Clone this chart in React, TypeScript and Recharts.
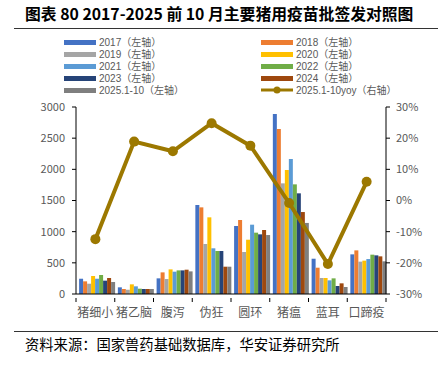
import React from 'react';
import { ComposedChart, Bar, Line, XAxis, YAxis } from 'recharts';

const categories = ['猪细小', '猪乙脑', '腹泻', '伪狂', '圆环', '猪瘟', '蓝耳', '口蹄疫'];
const y2017 = [245, 107, 251, 1428, 1091, 2887, 566, 636];
const y2018 = [203, 80, 347, 1390, 1187, 2647, 422, 700];
const y2019 = [165, 69, 240, 802, 674, 1775, 257, 519];
const y2020 = [289, 155, 395, 1230, 871, 1989, 257, 535];
const y2021 = [245, 123, 358, 733, 1112, 2165, 219, 561];
const y2022 = [305, 85, 379, 690, 984, 1759, 251, 631];
const y2023 = [214, 80, 379, 690, 957, 1615, 128, 620];
const y2024 = [257, 80, 390, 438, 1027, 1315, 171, 604];
const y2025 = [193, 80, 363, 438, 946, 1140, 112, 524];
const yoy = [-12.4, 18.9, 15.8, 24.8, 17.6, -0.8, -20.4, 6.0];

const leftTicks = [0, 500, 1000, 1500, 2000, 2500, 3000];
const rightTicks = [-30, -20, -10, 0, 10, 20, 30];

const series = [
  { key: 'y2017', name: '2017（左轴）', color: '#4472C4', values: y2017 },
  { key: 'y2018', name: '2018（左轴）', color: '#ED7D31', values: y2018 },
  { key: 'y2019', name: '2019（左轴）', color: '#A5A5A5', values: y2019 },
  { key: 'y2020', name: '2020（左轴）', color: '#FFC000', values: y2020 },
  { key: 'y2021', name: '2021（左轴）', color: '#5B9BD5', values: y2021 },
  { key: 'y2022', name: '2022（左轴）', color: '#70AD47', values: y2022 },
  { key: 'y2023', name: '2023（左轴）', color: '#264478', values: y2023 },
  { key: 'y2024', name: '2024（左轴）', color: '#9E480E', values: y2024 },
  { key: 'y2025', name: '2025.1-10（左轴）', color: '#7F7F7F', values: y2025 },
];
const lineName = '2025.1-10yoy（右轴）';
const lineColor = '#9C7800';

const data = categories.map((c, i) => {
  const row: any = { name: c, yoy: yoy[i] };
  series.forEach((s) => (row[s.key] = s.values[i]));
  return row;
});

const FONT = '"Noto Sans CJK SC", "Noto Sans", sans-serif';
const LEGEND_FONT = '"Liberation Sans", "Noto Sans CJK SC", sans-serif';
const GRAY = '#595959';

const XTick = (props: any) => {
  const { x, y, payload, index } = props;
  const off = payload.offset || 0;
  return (
    <g>
      <line x1={x - off} x2={x - off} y1={y - 4} y2={y} stroke="#000" />
      {index === categories.length - 1 && (
        <line x1={x + off} x2={x + off} y1={y - 4} y2={y} stroke="#000" />
      )}
      <text x={x} y={y + 15} textAnchor="middle" fill={GRAY} fontSize={12} fontFamily={FONT}>
        {payload.value}
      </text>
    </g>
  );
};

const legendRows = [
  [series[0], series[1]],
  [series[2], series[3]],
  [series[4], series[5]],
  [series[6], series[7]],
  [series[8], null],
];

const legendTextStyle: React.CSSProperties = {
  marginLeft: 3,
  fontSize: 10,
  lineHeight: '11px',
  color: GRAY,
  whiteSpace: 'nowrap',
  fontFamily: LEGEND_FONT,
};

export default function App() {
  return (
    <div style={{ position: 'absolute', left: 0, top: 0, width: 438, height: 366, background: '#fff', fontFamily: FONT }}>
      <div style={{ position: 'absolute', left: 25, top: 4, fontSize: 15.8, fontWeight: 700, color: '#000', whiteSpace: 'nowrap', lineHeight: '20px' }}>
        图表 80 2017-2025 前 10 月主要猪用疫苗批签发对照图
      </div>
      <div style={{ position: 'absolute', left: 14, top: 28, width: 424, height: 1, background: '#333' }} />
      {legendRows.map((row, ri) => (
        <React.Fragment key={ri}>
          {row.map((s, ci) => {
            const left = ci === 0 ? 64 : 261;
            const top = 42 + ri * 12;
            if (!s && ci === 1) {
              return (
                <div key={ci} style={{ position: 'absolute', left, top: top - 5.5, height: 11, display: 'flex', alignItems: 'center' }}>
                  <svg width={32} height={10}>
                    <line x1={0} x2={32} y1={5} y2={5} stroke={lineColor} strokeWidth={3} />
                    <circle cx={16} cy={5} r={3.5} fill={lineColor} />
                  </svg>
                  <span style={legendTextStyle}>{lineName}</span>
                </div>
              );
            }
            if (!s) return null;
            return (
              <div key={ci} style={{ position: 'absolute', left, top: top - 5.5, height: 11, display: 'flex', alignItems: 'center' }}>
                <div style={{ width: 32, height: 5, background: s.color }} />
                <span style={legendTextStyle}>{s.name}</span>
              </div>
            );
          })}
        </React.Fragment>
      ))}
      <div style={{ position: 'absolute', left: 0, top: 0 }}>
        <ComposedChart
          width={438}
          height={320}
          data={data}
          margin={{ top: 107, right: 0, bottom: 0, left: 0 }}
          barCategoryGap="8%"
          barGap={0}
        >
          <XAxis
            dataKey="name"
            height={26}
            axisLine={{ stroke: '#000' }}
            tickLine={false}
            tick={<XTick />}
            interval={0}
          />
          <YAxis
            yAxisId="left"
            orientation="left"
            width={76}
            domain={[0, 3000]}
            ticks={leftTicks}
            axisLine={{ stroke: '#000' }}
            tickLine={{ stroke: '#000' }}
            tickSize={4}
            tickMargin={7}
            tick={{ fill: GRAY, fontSize: 11, fontFamily: FONT }}
            interval={0}
          />
          <YAxis
            yAxisId="right"
            orientation="right"
            width={52}
            domain={[-30, 30]}
            ticks={rightTicks}
            tickFormatter={(v: number) => `${v}%`}
            axisLine={{ stroke: '#000' }}
            tickLine={{ stroke: '#000' }}
            tickSize={4}
            tickMargin={6}
            tick={{ fill: GRAY, fontSize: 11, fontFamily: FONT }}
            interval={0}
          />
          {series.map((s) => (
            <Bar key={s.key} yAxisId="left" dataKey={s.key} name={s.name} fill={s.color} isAnimationActive={false} />
          ))}
          <Line
            yAxisId="right"
            dataKey="yoy"
            name={lineName}
            stroke={lineColor}
            strokeWidth={4}
            dot={{ r: 5, fill: lineColor, stroke: lineColor, strokeWidth: 0 }}
            activeDot={false}
            isAnimationActive={false}
          />
        </ComposedChart>
      </div>
      <div style={{ position: 'absolute', left: 14, top: 331, width: 424, height: 1, background: '#333' }} />
      <div style={{ position: 'absolute', left: 25, top: 335, fontSize: 14.3, color: '#000', whiteSpace: 'nowrap', lineHeight: '17px' }}>
        资料来源：国家兽药基础数据库，华安证券研究所
      </div>
    </div>
  );
}
